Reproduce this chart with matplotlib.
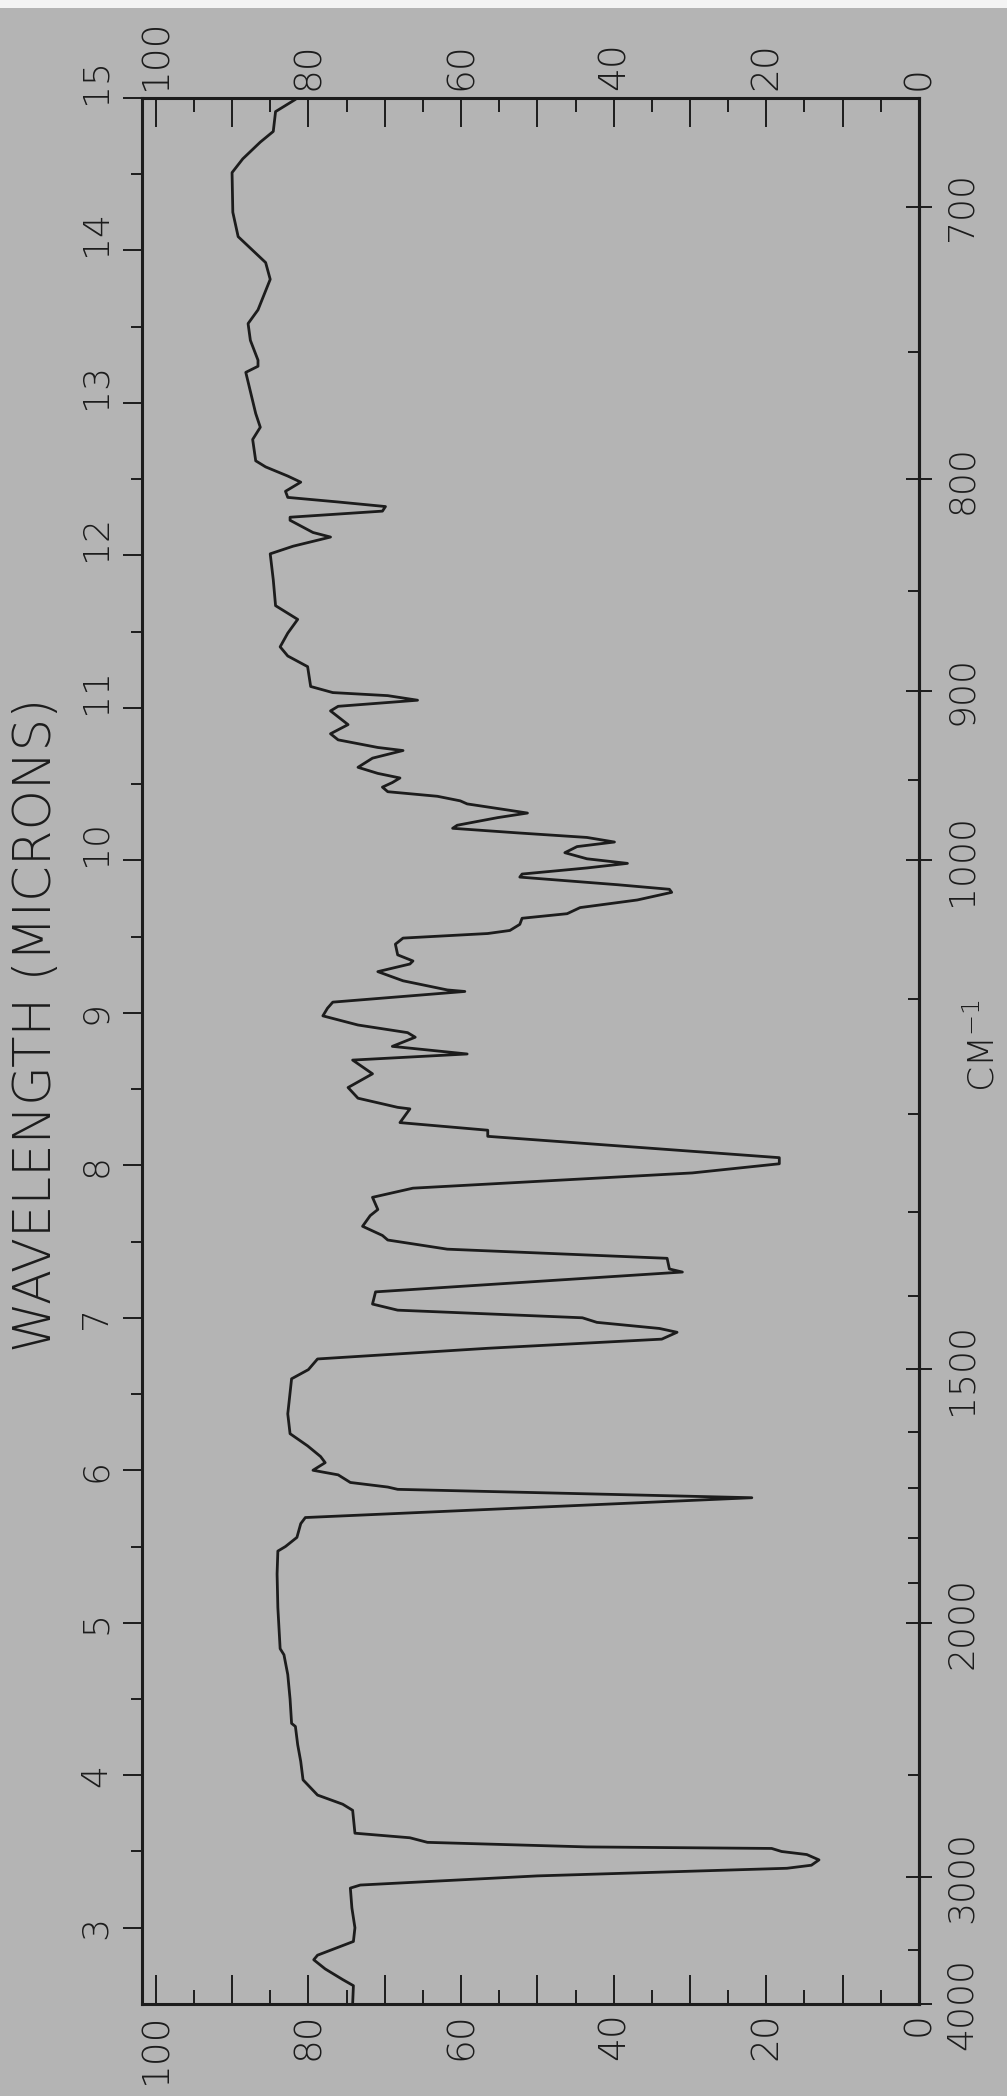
import numpy as np
import matplotlib
matplotlib.use("Agg")
import matplotlib.pyplot as plt
from matplotlib.patches import Rectangle
from matplotlib.transforms import ScaledTranslation

# infrared spectrum, printed sideways on the page (wavelength runs up the page)
wavelength = [2.50, 2.62, 2.66, 2.73, 2.79, 2.82, 2.91, 3.00, 3.13, 3.26, 3.28, 3.34, 3.39, 3.41, 3.445,
              3.48, 3.50, 3.52, 3.53, 3.56, 3.59, 3.62, 3.77, 3.81, 3.87, 3.97, 4.09, 4.20, 4.32, 4.34,
              4.50, 4.66, 4.79, 4.83, 5.10, 5.32, 5.47, 5.50, 5.56, 5.65, 5.69, 5.82, 5.875, 5.89, 5.92,
              5.97, 6.00, 6.05, 6.09, 6.16, 6.24, 6.37, 6.60, 6.66, 6.73, 6.80, 6.86, 6.905, 6.93, 6.97,
              7.00, 7.05, 7.09, 7.17, 7.30, 7.32, 7.39, 7.45, 7.51, 7.54, 7.60, 7.67, 7.71, 7.79, 7.85,
              7.95, 8.01, 8.05, 8.19, 8.23, 8.28, 8.37, 8.38, 8.44, 8.51, 8.60, 8.69, 8.73, 8.78, 8.84,
              8.87, 8.92, 8.98, 9.03, 9.07, 9.14, 9.15, 9.21, 9.27, 9.32, 9.34, 9.38, 9.45, 9.49, 9.52,
              9.54, 9.58, 9.62, 9.65, 9.69, 9.74, 9.79, 9.81, 9.84, 9.89, 9.91, 9.95, 9.98, 10.01, 10.05,
              10.09, 10.12, 10.15, 10.18, 10.21, 10.23, 10.28, 10.31, 10.33, 10.37, 10.39, 10.42, 10.45,
              10.48, 10.51, 10.54, 10.57, 10.61, 10.67, 10.72, 10.74, 10.79, 10.83, 10.89, 10.98, 11.01,
              11.05, 11.08, 11.10, 11.14, 11.27, 11.34, 11.40, 11.49, 11.58, 11.63, 11.67, 11.84, 12.01,
              12.06, 12.12, 12.15, 12.23, 12.25, 12.29, 12.32, 12.35, 12.38, 12.42, 12.48, 12.52, 12.58,
              12.62, 12.76, 12.84, 12.93, 13.20, 13.24, 13.28, 13.41, 13.52, 13.61, 13.81, 13.92, 14.09,
              14.25, 14.51, 14.60, 14.71, 14.78, 14.91, 14.99, 15.00]
transmittance = [74.2, 74.1, 75.5, 77.8, 79.3, 78.8, 74.1, 73.9, 74.3, 74.5, 73.2, 50.0, 17.3, 14.1, 13.1,
                 14.7, 18.0, 19.3, 43.5, 64.4, 66.7, 73.9, 74.2, 75.5, 78.8, 80.7, 81.0, 81.4, 81.7, 82.2,
                 82.4, 82.7, 83.2, 83.7, 84.0, 84.1, 84.0, 83.0, 81.5, 81.0, 80.4, 21.9, 68.3, 69.6, 74.5,
                 76.1, 79.4, 77.8, 78.4, 80.1, 82.4, 82.7, 82.2, 80.0, 78.8, 56.5, 33.7, 31.7, 34.0, 42.2,
                 44.1, 68.3, 71.6, 71.2, 31.0, 32.7, 33.0, 61.8, 69.6, 70.3, 72.9, 71.9, 70.9, 71.6, 66.3,
                 29.7, 18.3, 18.3, 56.5, 56.5, 68.0, 66.7, 68.3, 73.5, 74.8, 71.6, 74.2, 59.2, 69.0, 66.0,
                 67.0, 73.5, 78.1, 77.5, 76.8, 59.5, 61.8, 67.6, 70.9, 66.7, 66.3, 68.3, 68.6, 67.6, 56.5,
                 53.6, 52.3, 52.0, 46.1, 44.4, 36.9, 32.4, 32.7, 39.5, 52.3, 52.0, 43.5, 38.2, 43.5, 46.4,
                 44.8, 39.9, 43.5, 52.6, 61.1, 60.5, 55.2, 51.3, 53.9, 59.2, 60.1, 63.1, 69.6,
                 70.3, 69.0, 68.0, 70.9, 73.5, 71.6, 67.6, 70.9, 76.1, 77.1, 74.8, 77.1, 76.1,
                 65.7, 69.6, 76.8, 79.7, 80.1, 82.7, 83.7, 82.7, 81.4, 83.0, 84.3, 84.6, 85.0,
                 82.0, 77.1, 79.4, 82.4, 82.4, 70.3, 69.9, 76.1, 82.7, 83.0, 81.0, 82.7, 85.6,
                 86.9, 87.3, 86.3, 86.9, 88.2, 86.6, 86.6, 87.6, 87.9, 86.6, 85.0, 85.6, 89.2,
                 89.9, 90.0, 88.6, 86.3, 84.6, 84.3, 81.7, 81.5]

t_ticks = [0, 10, 20, 30, 40, 50, 60, 70, 80, 90, 100]
t_labels = ['0', '', '20', '', '40', '', '60', '', '80', '', '100']
t_minor = [5, 15, 25, 35, 45, 55, 65, 75, 85, 95]
wl_ticks = [3, 4, 5, 6, 7, 8, 9, 10, 11, 12, 13, 14, 15]
wl_minor = [3.5, 4.5, 5.5, 6.5, 7.5, 8.5, 9.5, 10.5, 11.5, 12.5, 13.5, 14.5]
cm_ticks = [4000, 3000, 2000, 1500, 1000, 900, 800, 700]
cm_minor = [3500, 2500, 1900, 1800, 1700, 1600, 1400, 1300, 1200, 1100, 950, 850, 750]

paper = '#b4b4b4'
ink = '#1c1c1c'
plt.rcParams['font.family'] = ['DejaVu Sans']
plt.rcParams['font.weight'] = 'light'
plt.rcParams['mathtext.fontset'] = 'dejavusans'

fig = plt.figure(figsize=(10.07, 20.96), dpi=100, facecolor=paper)
ax = fig.add_axes([0.1410, 0.0439, 0.7716, 0.9094])
ax.set_facecolor('none')
ax.plot(transmittance, wavelength, color=ink, lw=2.0, solid_joinstyle='round')
ax.set_xlim(101.8, 0)
ax.set_ylim(2.5, 15)
for s in ax.spines.values():
    s.set_linewidth(2.2)
    s.set_color(ink)

# transmittance (bottom and top edges)
ax.set_xticks(t_ticks, t_labels)
ax.set_xticks(t_minor, minor=True)
ax.tick_params(axis='x', which='both', direction='in', top=True, bottom=True,
               labeltop=True, labelbottom=True, width=1.4, color=ink)
ax.tick_params(axis='x', which='major', length=21, pad=6, labelrotation=90,
               labelsize=27, labelcolor=ink)
ax.tick_params(axis='x', which='minor', length=10)

# wavelength (left edge)
ax.set_yticks(wl_ticks, [str(v) for v in wl_ticks])
ax.set_yticks(wl_minor, minor=True)
ax.tick_params(axis='y', which='both', direction='out', left=True, right=False,
               width=1.4, color=ink)
ax.tick_params(axis='y', which='major', length=14, pad=7, labelrotation=90,
               labelsize=26, labelcolor=ink)
ax.tick_params(axis='y', which='minor', length=8)


def wl_to_cm(w):
    w = np.asarray(w, dtype=float)
    with np.errstate(divide='ignore'):
        return 10000.0 / w


# wavenumber (right edge)
sec = ax.secondary_yaxis('right', functions=(wl_to_cm, wl_to_cm))
sec.set_yticks(cm_ticks, [str(v) for v in cm_ticks])
sec.set_yticks(cm_minor, minor=True)
sec.tick_params(which='major', direction='inout', length=19, width=1.4, color=ink,
                pad=9, labelrotation=90, labelsize=26, labelcolor=ink)
sec.tick_params(which='minor', direction='in', length=8, width=1.4, color=ink)
sec.spines['right'].set_linewidth(2.2)
sec.spines['right'].set_color(ink)

for lab in ax.get_yticklabels():
    lab.set_verticalalignment('center')
    if len(lab.get_text()) == 2:
        lab.set_transform(lab.get_transform() + ScaledTranslation(0, 0.17, fig.dpi_scale_trans))
for lab in sec.get_yticklabels():
    lab.set_verticalalignment('center')

fig.text(37 / 1007, 1 - 1025 / 2096, 'WAVELENGTH (MICRONS)', rotation=90,
         ha='center', va='center', fontsize=37, color=ink)
fig.text(983 / 1007, 1 - 1045 / 2096, 'CM$^{-1}$', rotation=90,
         ha='center', va='center', fontsize=26, color=ink)

# unprinted strip along the top edge of the scan
fig.patches.append(Rectangle((0, 1 - 8 / 2096), 1, 8 / 2096, transform=fig.transFigure,
                             facecolor='#f4f4f4', edgecolor='none', zorder=10))

fig.savefig('out.png', dpi=100, facecolor=paper)
